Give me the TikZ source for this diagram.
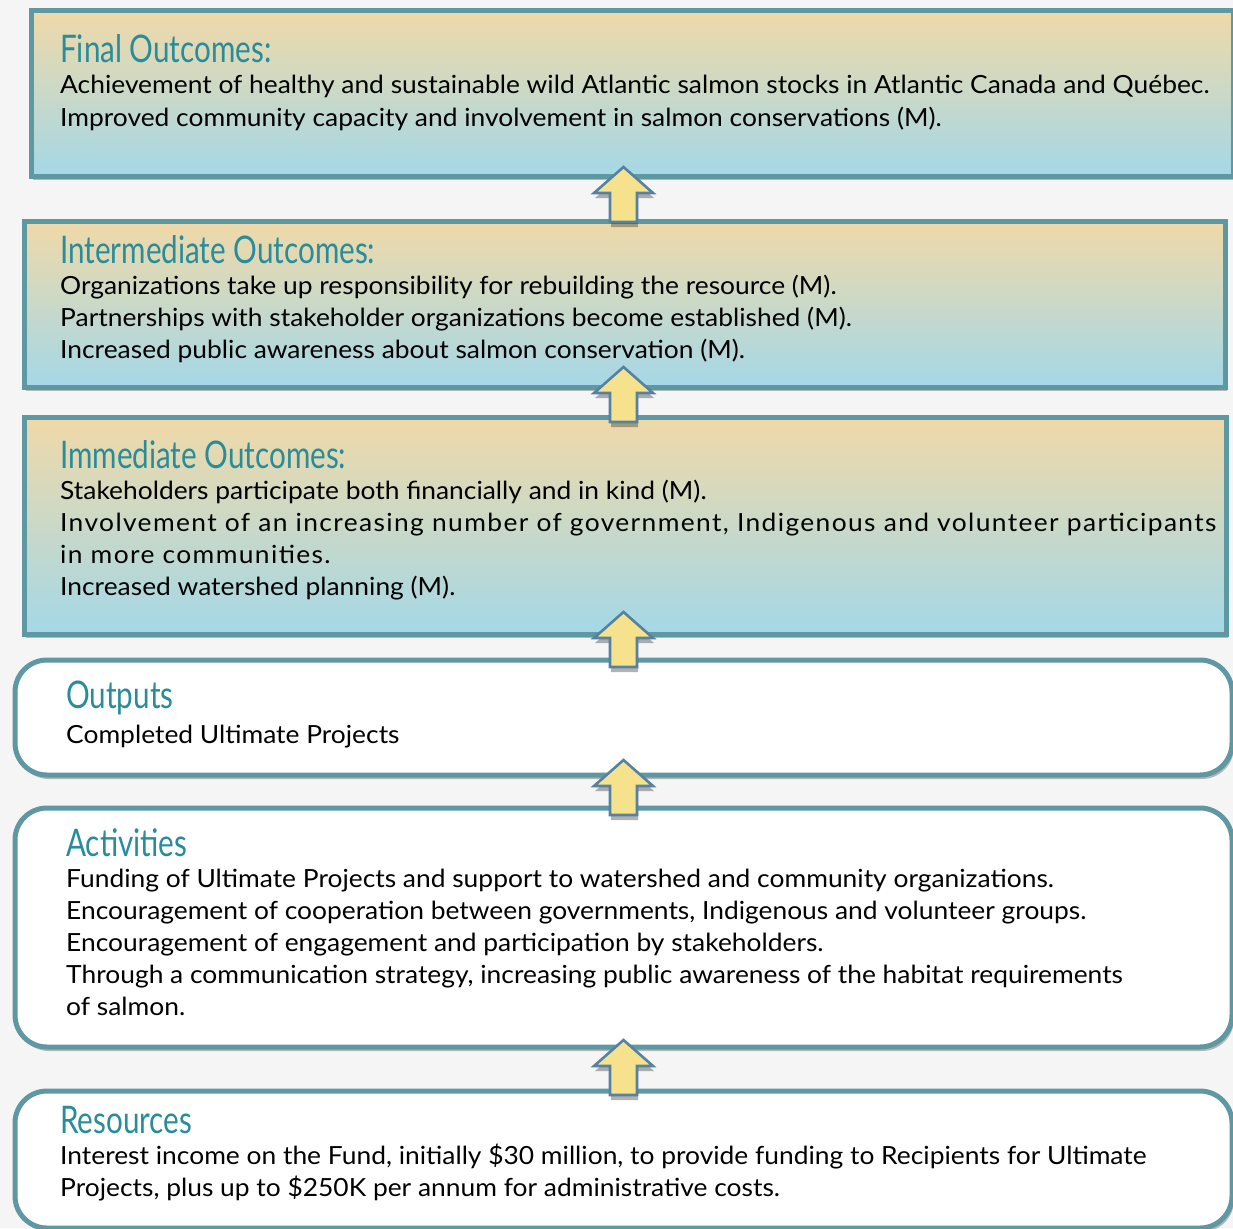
\documentclass[tikz,border=0pt]{standalone}
\usepackage{fontspec}
\setmainfont[FakeStretch=1.055]{Lato}
\newfontfamily\titlefont[FakeStretch=0.78]{Lato}
\usetikzlibrary{shadows}
\definecolor{bordc}{RGB}{94,152,162}
\definecolor{titc}{RGB}{40,140,155}
\definecolor{topc}{RGB}{240,217,168}
\definecolor{botc}{RGB}{164,216,231}
\definecolor{arrf}{RGB}{246,226,140}
\definecolor{arrd}{RGB}{86,130,162}
\definecolor{bgc}{RGB}{245,245,245}
\tikzset{
  shad/.style={drop shadow={shadow xshift=2pt, shadow yshift=-4pt, opacity=0.25, fill=black}},
  gradbox/.style={draw=bordc, line width=5pt, top color=topc, bottom color=botc, shad, anchor=north west, inner sep=0pt},
  roundbox/.style={draw=bordc, line width=5pt, fill=white, rounded corners=32pt, shad, anchor=north west, inner sep=0pt},
  ttl/.style={anchor=base west, inner sep=0pt, text=titc, font=\titlefont\fontsize{38}{40}\selectfont},
  txt/.style={anchor=base west, inner sep=0pt, text=black, font=\fontsize{25}{32}\selectfont},
  uparrow/.style={draw=arrd, line width=2.6pt, fill=arrf, line join=miter,
    drop shadow={shadow xshift=1pt, shadow yshift=-5pt, opacity=0.3, fill=black}},
}
\newcommand\blockarrow[1]{%
  \draw[uparrow] (#1) -- ++(29.5,26) -- ++(-16,0) -- ++(0,29) -- ++(-27,0) -- ++(0,-29) -- ++(-16,0) -- cycle;}
\begin{document}
\begin{tikzpicture}[x=1pt,y=-1pt]
\useasboundingbox (0,0) rectangle (1233,1228);
\fill[bgc] (0,0) rectangle (1233,1228);
% boxes
\node[gradbox, minimum width=1202pt, minimum height=165pt] (B1) at (28.5,8.5) {};
\node[gradbox, minimum width=1201pt, minimum height=166pt] (B2) at (21.5,218.5) {};
\node[gradbox, minimum width=1202pt, minimum height=217pt] (B3) at (21.5,414.5) {};
\node[roundbox, minimum width=1217pt, minimum height=115pt] (B4) at (12.5,657.5) {};
\node[roundbox, minimum width=1217pt, minimum height=239pt] (B5) at (12.5,805.5) {};
\node[roundbox, minimum width=1217pt, minimum height=137pt] (B6) at (12.5,1088.5) {};
% arrows
\coordinate (A1) at (623.5,167);
\coordinate (A2) at (623.5,367);
\coordinate (A3) at (623.5,612);
\coordinate (A4) at (623.5,760);
\coordinate (A5) at (623.5,1040);
\blockarrow{A1}
\blockarrow{A2}
\blockarrow{A3}
\blockarrow{A4}
\blockarrow{A5}
% box 1
\node[ttl] (T1) at (60,63) {Final Outcomes:};
\node[txt] (L11) at (60,94) {Achievement of healthy and sustainable wild Atlantic salmon stocks in Atlantic Canada and Québec.};
\node[txt] (L12) at (60,126) {Improved community capacity and involvement in salmon conservations (M).};
% box 2
\node[ttl] (T2) at (60,263) {Intermediate Outcomes:};
\node[txt] (L21) at (60,294) {Organizations take up responsibility for rebuilding the resource (M).};
\node[txt] (L22) at (60,326) {Partnerships with stakeholder organizations become established (M).};
\node[txt] (L23) at (60,358) {Increased public awareness about salmon conservation (M).};
% box 3
\node[ttl] (T3) at (60,468) {Immediate Outcomes:};
\node[txt] (L31) at (60,499) {Stakeholders participate both financially and in kind (M).};
\node[txt] (L32) at (60,531) {\addfontfeature{LetterSpace=5.5}Involvement of an increasing number of government, Indigenous and volunteer participants};
\node[txt] (L33) at (60,563) {\addfontfeature{LetterSpace=5.5}in more communities.};
\node[txt] (L34) at (60,595) {Increased watershed planning (M).};
% box 4
\node[ttl] (T4) at (66,708) {Outputs};
\node[txt] (L41) at (66,743) {Completed Ultimate Projects};
% box 5
\node[ttl] (T5) at (66,856) {Activities};
\node[txt] (L51) at (66,887) {Funding of Ultimate Projects and support to watershed and community organizations.};
\node[txt] (L52) at (66,919) {Encouragement of cooperation between governments, Indigenous and volunteer groups.};
\node[txt] (L53) at (66,951) {Encouragement of engagement and participation by stakeholders.};
\node[txt] (L54) at (66,983) {Through a communication strategy, increasing public awareness of the habitat requirements};
\node[txt] (L55) at (66,1015) {of salmon.};
% box 6
\node[ttl] (T6) at (60,1133) {Resources};
\node[txt] (L61) at (60,1164) {Interest income on the Fund, initially \$30 million, to provide funding to Recipients for Ultimate};
\node[txt] (L62) at (60,1196) {Projects, plus up to \$250K per annum for administrative costs.};
\end{tikzpicture}
\end{document}
